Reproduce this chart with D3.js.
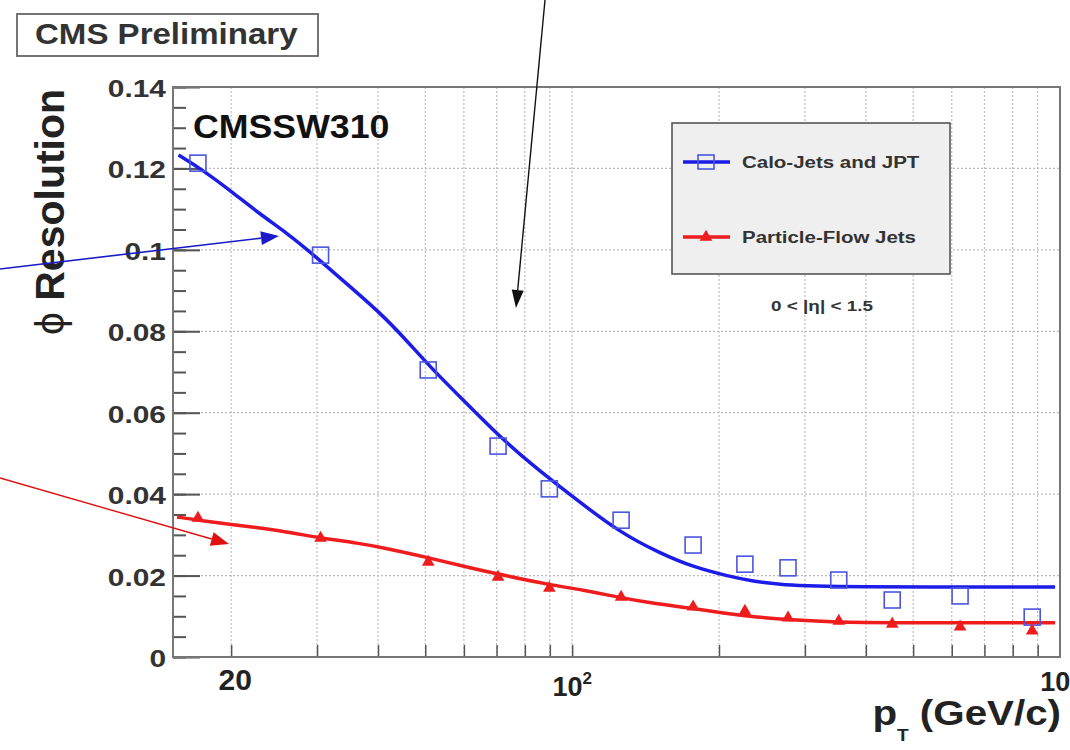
<!DOCTYPE html>
<html><head><meta charset="utf-8">
<script src="https://cdn.jsdelivr.net/npm/d3@7"></script>
<style>
body{margin:0;background:#fff}
svg{display:block}
text{font-family:"Liberation Sans",Arial,Helvetica,sans-serif;font-weight:bold}
</style>
</head><body>
<svg id="c" width="1070" height="750"></svg>
<script>
// ---- data ----
const ptBins = [17.1, 30.5, 50.7, 70.5, 89.8, 126, 177, 226, 277, 352, 453, 624, 877];
const caloValues = [0.1213, 0.0987, 0.0705, 0.0518, 0.0413, 0.0336, 0.0275, 0.0228, 0.0219, 0.0189, 0.0140, 0.0150, 0.0098];
const pfValues = [0.0341, 0.0292, 0.0233, 0.0196, 0.0169, 0.0147, 0.0123, 0.0113, 0.0096, 0.0088, 0.0081, 0.0074, 0.0064];

const caloFitPt = [15.6, 17.5, 20.2, 22.9, 26.1, 29.5, 35.1, 40.4, 45.1, 51.2, 59.8, 71.2, 82.0, 99.1, 125.4, 151.4, 177, 208, 235, 267, 352, 977];
const caloFitVal = [0.1233, 0.1196, 0.1140, 0.1088, 0.1040, 0.0988, 0.0909, 0.0845, 0.0786, 0.0712, 0.0631, 0.0540, 0.0476, 0.0398, 0.0305, 0.0255, 0.0221, 0.0199, 0.0186, 0.0177, 0.0172, 0.0172];
const pfFitPt = [15.5, 17.5, 20.6, 25.6, 30.5, 36.3, 40.4, 51.2, 61.8, 72.2, 90.2, 105, 124, 144, 175, 204, 239, 280, 343, 402, 977];
const pfFitVal = [0.0344, 0.0334, 0.0324, 0.0309, 0.0292, 0.0280, 0.0270, 0.0243, 0.0219, 0.0201, 0.0177, 0.0165, 0.0147, 0.0133, 0.0120, 0.0108, 0.0098, 0.0091, 0.0086, 0.0084, 0.0084];

const yTickValues = [0, 0.02, 0.04, 0.06, 0.08, 0.1, 0.12, 0.14];
const yTickLabels = ["0", "0.02", "0.04", "0.06", "0.08", "0.1", "0.12", "0.14"];
const xGridValues = [20, 30, 40, 50, 60, 70, 80, 90, 100, 200, 300, 400, 500, 600, 700, 800, 900];
const xLabelValues = [20, 100, 1000];
const xLabelBase = ["20", "10", "10"];
const xLabelExp = ["", "2", "3"];

const seriesNames = ["Calo-Jets and JPT", "Particle-Flow Jets"];
const etaText = "0 < |\u03B7| < 1.5";

// ---- drawing ----
const svg = d3.select("#c");
const L = 173, R = 1060, T = 87, B = 657;
const x = d3.scaleLog().domain([15.2, 1000]).range([L, R]);
const y = d3.scaleLinear().domain([0, 0.14]).range([B, T]);

const BLUE = "#1c1ce8", RED = "#ee1c1c";

function label(px, py, str, o) {
  o = o || {};
  return svg.append("text")
    .attr("transform", `translate(${px},${py}) scale(${o.sx || 1},1)`)
    .attr("text-anchor", o.anchor || "start")
    .attr("font-size", o.size || 20)
    .attr("fill", o.fill || "#222")
    .text(str);
}

// grid
const grid = svg.append("g").attr("stroke", "#bdbdbd").attr("stroke-width", 1.2).attr("stroke-dasharray", "2,2");
grid.selectAll(".vg").data(xGridValues).join("line")
  .attr("x1", d => x(d)).attr("x2", d => x(d)).attr("y1", T).attr("y2", B);
grid.selectAll(".hg").data(yTickValues.slice(1, -1)).join("line")
  .attr("x1", L).attr("x2", R).attr("y1", d => y(d)).attr("y2", d => y(d));

// axes ticks (ROOT style, inward)
const minorY = d3.range(0, 0.1401, 0.005);
const yAxisMinor = d3.axisLeft(y).tickValues(minorY).tickSize(-13).tickFormat("");
const yAxisMajor = d3.axisLeft(y).tickValues(yTickValues).tickSize(-27).tickFormat("");
[yAxisMinor, yAxisMajor].forEach(a => {
  const g = svg.append("g").attr("transform", `translate(${L},0)`).call(a);
  g.select(".domain").remove();
  g.selectAll("line").attr("stroke", "#555").attr("stroke-width", 2);
});
const xAxis = d3.axisBottom(x).tickValues(xGridValues).tickSize(-12).tickFormat("");
const gx = svg.append("g").attr("transform", `translate(0,${B})`).call(xAxis);
gx.select(".domain").remove();
gx.selectAll("line").attr("stroke", "#555").attr("stroke-width", 1.5);

// frame
svg.append("rect").attr("x", L).attr("y", T).attr("width", R - L).attr("height", B - T)
  .attr("fill", "none").attr("stroke", "#777").attr("stroke-width", 2);

// y tick labels
yTickValues.forEach((v, i) => label(166, y(v) + 10, yTickLabels[i], {anchor: "end", size: 23, sx: 1.3, fill: "#333"}));

// x tick labels
xLabelValues.forEach((v, i) => {
  const base = xLabelExp[i] ? (v >= 1000 ? 691 : 696) : 690;
  const t = svg.append("text")
    .attr("transform", `translate(${x(v) + (xLabelExp[i] ? 0 : 4)},${base})`)
    .attr("text-anchor", "middle").attr("font-size", xLabelExp[i] ? 27 : 30).attr("fill", "#222");
  t.append("tspan").text(xLabelBase[i]);
  if (xLabelExp[i]) t.append("tspan").attr("dy", -12).attr("font-size", 17).text(xLabelExp[i]);
});

// axis titles
const yt = svg.append("text")
  .attr("transform", `translate(64,212) rotate(-90)`)
  .attr("text-anchor", "middle").attr("font-size", 41).attr("fill", "#222");
yt.append("tspan").attr("font-weight", "normal").text("\u03D5 ");
yt.append("tspan").text("Resolution");

const xt = svg.append("text")
  .attr("transform", `translate(1061,725) scale(1.12,1)`)
  .attr("text-anchor", "end").attr("font-size", 36).attr("fill", "#222");
xt.append("tspan").text("p");
xt.append("tspan").attr("dy", 16).attr("font-size", 17).text("T");
xt.append("tspan").attr("dy", -16).text(" (GeV/c)");

// CMS Preliminary box
svg.append("rect").attr("x", 17).attr("y", 14).attr("width", 301).attr("height", 42)
  .attr("fill", "#fff").attr("stroke", "#666").attr("stroke-width", 1.8);
label(35, 44, "CMS Preliminary", {size: 29, sx: 1.14, fill: "#333"});
label(193, 138, "CMSSW310", {size: 34, sx: 1.05, fill: "#111"});

// fit curves
const line = d3.line().x(d => x(d[0])).y(d => y(d[1])).curve(d3.curveBasis);
svg.append("path").datum(d3.zip(caloFitPt, caloFitVal)).attr("d", line)
  .attr("fill", "none").attr("stroke", BLUE).attr("stroke-width", 3.5);
svg.append("path").datum(d3.zip(pfFitPt, pfFitVal)).attr("d", line)
  .attr("fill", "none").attr("stroke", RED).attr("stroke-width", 3.5);

// markers
const sq = 16;
svg.append("g").selectAll("rect").data(d3.zip(ptBins, caloValues)).join("rect")
  .attr("x", d => x(d[0]) - sq / 2).attr("y", d => y(d[1]) - sq / 2)
  .attr("width", sq).attr("height", sq)
  .attr("fill", "none").attr("stroke", "#4a55e0").attr("stroke-width", 1.6);
const tri = d3.symbol().type(d3.symbolTriangle).size(70);
svg.append("g").selectAll("path").data(d3.zip(ptBins, pfValues)).join("path")
  .attr("transform", d => `translate(${x(d[0])},${y(d[1])})`)
  .attr("d", tri).attr("fill", RED);

// legend
svg.append("rect").attr("x", 672).attr("y", 123).attr("width", 278).attr("height", 151)
  .attr("fill", "#efefef").attr("stroke", "#555").attr("stroke-width", 1.6);
const legY = [162, 237], legCol = [BLUE, RED];
legY.forEach((ly, i) => {
  svg.append("line").attr("x1", 683).attr("x2", 730).attr("y1", ly).attr("y2", ly)
    .attr("stroke", legCol[i]).attr("stroke-width", 3.5);
  if (i === 0) {
    svg.append("rect").attr("x", 698).attr("y", ly - 7).attr("width", 16).attr("height", 14)
      .attr("fill", "none").attr("stroke", "#4a55e0").attr("stroke-width", 1.6);
  } else {
    svg.append("path").attr("transform", `translate(706,${ly})`).attr("d", tri).attr("fill", RED);
  }
  label(742, ly + 6, seriesNames[i], {size: 16, sx: 1.28, fill: "#333"});
});
label(822, 311, etaText, {size: 14, sx: 1.35, anchor: "middle", fill: "#333"});

// annotation arrows
function arrow(x0, y0, x1, y1, col, w, hl, hw) {
  const a = Math.atan2(y1 - y0, x1 - x0);
  const bx = x1 - hl * Math.cos(a), by = y1 - hl * Math.sin(a);
  svg.append("line").attr("x1", x0).attr("y1", y0).attr("x2", bx).attr("y2", by)
    .attr("stroke", col).attr("stroke-width", w);
  const px = -Math.sin(a) * hw / 2, py = Math.cos(a) * hw / 2;
  svg.append("path").attr("d", `M${x1},${y1}L${bx + px},${by + py}L${bx - px},${by - py}Z`).attr("fill", col);
}
arrow(0, 269, 279, 236, "#1a1ac8", 1.6, 18, 14);
arrow(0, 478, 229, 544, "#e01010", 1.4, 18, 14);
arrow(545, 0, 516, 308, "#111", 1.4, 18, 12);
</script>
</body></html>
